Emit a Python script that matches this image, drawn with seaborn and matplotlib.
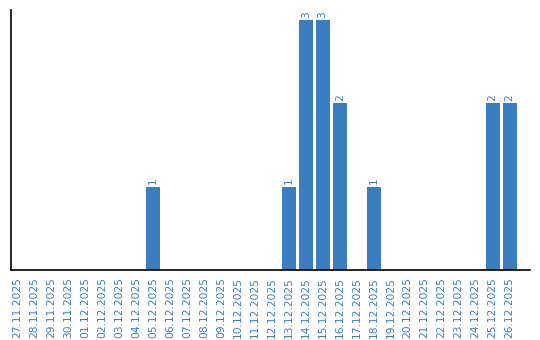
import matplotlib
matplotlib.use("Agg")
import matplotlib.pyplot as plt
import seaborn as sns
import pandas as pd

dates = ["27.11.2025", "28.11.2025", "29.11.2025", "30.11.2025", "01.12.2025",
         "02.12.2025", "03.12.2025", "04.12.2025", "05.12.2025", "06.12.2025",
         "07.12.2025", "08.12.2025", "09.12.2025", "10.12.2025", "11.12.2025",
         "12.12.2025", "13.12.2025", "14.12.2025", "15.12.2025", "16.12.2025",
         "17.12.2025", "18.12.2025", "19.12.2025", "20.12.2025", "21.12.2025",
         "22.12.2025", "23.12.2025", "24.12.2025", "25.12.2025", "26.12.2025"]
counts = [0, 0, 0, 0, 0, 0, 0, 0, 1, 0,
          0, 0, 0, 0, 0, 0, 1, 3, 3, 2,
          0, 1, 0, 0, 0, 0, 0, 0, 2, 2]

bar_color = "#3a7ec2"
text_color = "#3a7ec2"

sns.set_style("white")
plt.rcParams['font.family'] = ['DejaVu Sans']

df = pd.DataFrame({"date": dates, "count": counts})

fig = plt.figure(figsize=(5.4, 3.4), dpi=100)
ax = fig.add_axes([11/540, 70/340, 519/540, 260/340])
sns.barplot(data=df, x="date", y="count", color=bar_color, saturation=1,
            width=0.82, linewidth=0, ax=ax)

for i, v in enumerate(counts):
    if v > 0:
        ax.text(i, v + 0.03, str(v), rotation=90, ha="center", va="bottom",
                fontsize=7.7, color=text_color)

ax.set_xlim(-0.35, 30.2)
ax.set_ylim(0, 3.12)
ax.set_xlabel("")
ax.set_ylabel("")
ax.set_yticks([])
ax.tick_params(axis="x", length=0, pad=5, labelsize=7.7, labelcolor=text_color)
for lab in ax.get_xticklabels():
    lab.set_rotation(90)
for s in ["top", "right"]:
    ax.spines[s].set_visible(False)
for s in ["left", "bottom"]:
    ax.spines[s].set_color("black")
    ax.spines[s].set_linewidth(1.2)

fig.savefig("out.png", dpi=100)
